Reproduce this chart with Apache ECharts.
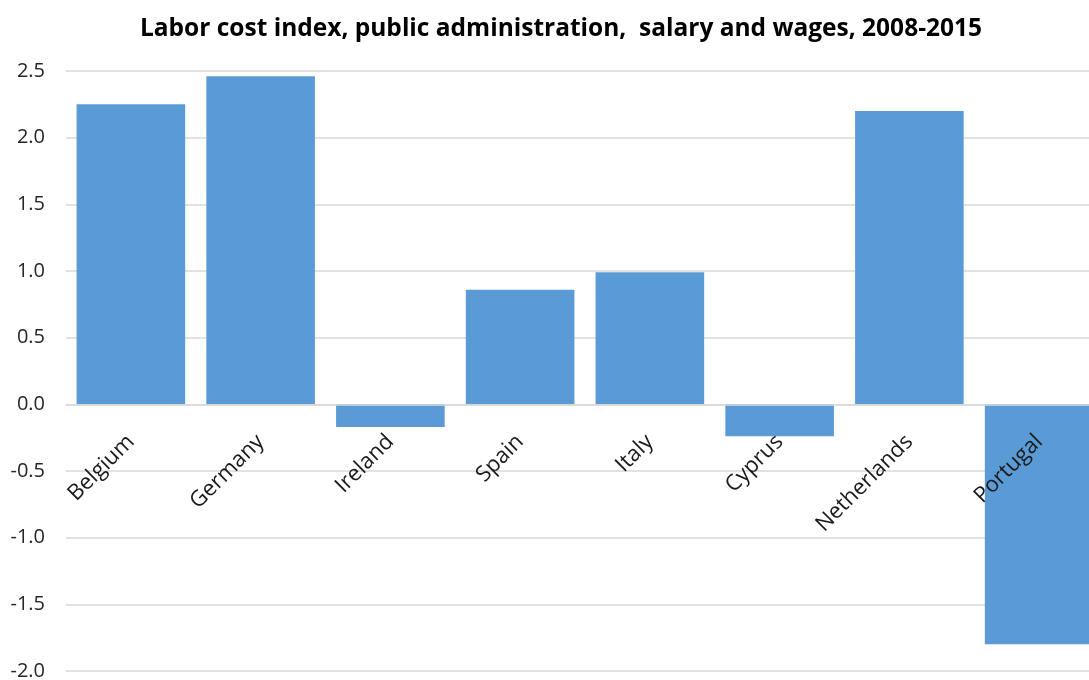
<!DOCTYPE html>
<html>
<head>
<meta charset="utf-8">
<title>Labor cost index, public administration, salary and wages, 2008-2015</title>
<script src="https://cdn.jsdelivr.net/npm/echarts@6/dist/echarts.min.js"></script>
<style>
  html, body { margin: 0; padding: 0; background: #ffffff; }
  #chart { width: 1089px; height: 680px; }
</style>
</head>
<body>
<div id="chart"></div>
<script>
// Labor cost index change by country, 2008-2015
const titleText = 'Labor cost index, public administration,  salary and wages, 2008-2015';
const countries = ['Belgium', 'Germany', 'Ireland', 'Spain', 'Italy', 'Cyprus', 'Netherlands', 'Portugal'];
const indexValues = [2.25, 2.46, -0.17, 0.86, 0.99, -0.24, 2.2, -1.8];
const yTicks = { min: -2.0, max: 2.5, step: 0.5 };

const FONT = '"Open Sans", "Noto Sans", sans-serif';
const GRID_TOP = 71;
const GRID_HEIGHT = 600;
// category axis sits on the zero line of the value axis
const zeroOffset = -GRID_HEIGHT * (0 - yTicks.min) / (yTicks.max - yTicks.min);

const chart = echarts.init(document.getElementById('chart'), null, { renderer: 'canvas' });

chart.setOption({
  animation: false,
  backgroundColor: '#ffffff',
  title: {
    text: titleText,
    left: 556,
    textAlign: 'center',
    top: 12,
    textStyle: {
      fontFamily: FONT,
      fontWeight: 'bold',
      fontSize: 24.5,
      color: '#000000'
    }
  },
  grid: {
    left: 66,
    top: GRID_TOP,
    width: 1038,
    height: GRID_HEIGHT,
    containLabel: false,
    outerBoundsMode: 'none'
  },
  xAxis: {
    type: 'category',
    data: countries,
    position: 'bottom',
    offset: zeroOffset,
    z: 5,
    axisLine: { onZero: false, lineStyle: { color: '#d9d9d9', width: 1.5 } },
    axisTick: { show: false },
    splitLine: { show: false },
    axisLabel: {
      rotate: 45,
      margin: 34,
      interval: 0,
      fontFamily: FONT,
      fontSize: 22,
      color: '#1a1a1a'
    }
  },
  yAxis: {
    type: 'value',
    min: yTicks.min,
    max: yTicks.max,
    interval: yTicks.step,
    axisLine: { show: false },
    axisTick: { show: false },
    splitLine: { lineStyle: { color: '#d9d9d9', width: 1.5 } },
    axisLabel: {
      margin: 21,
      fontFamily: FONT,
      fontSize: 20,
      color: '#262626',
      formatter: v => v.toFixed(1)
    }
  },
  series: [{
    type: 'bar',
    data: indexValues,
    barCategoryGap: '16.3%',
    itemStyle: { color: '#5b9bd5' },
    z: 2
  }]
});
</script>
</body>
</html>
